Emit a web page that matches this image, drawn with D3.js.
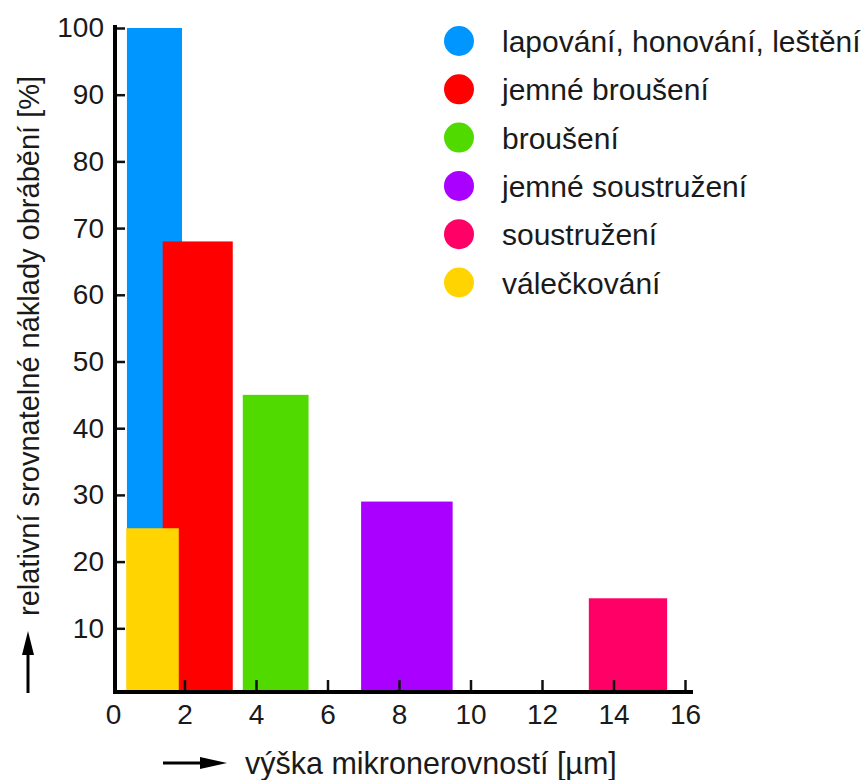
<!DOCTYPE html>
<html>
<head>
<meta charset="utf-8">
<script src="https://cdn.jsdelivr.net/npm/d3@7"></script>
<style>
  html, body { margin: 0; padding: 0; background: #fff; }
  svg { display: block; }
  text { font-family: "Liberation Sans", Arial, sans-serif; fill: #1a1a1a; }
</style>
</head>
<body>
<svg id="chart" width="862" height="780"></svg>
<script>
// ---- data ----
const categories = ["lapování, honování, leštění", "jemné broušení", "broušení", "jemné soustružení", "soustružení", "válečkování"];
const roughnessFrom = [0.39, 1.39, 3.63, 6.94, 13.31, 0.37];
const roughnessTo   = [1.93, 3.35, 5.47, 9.5, 15.5, 1.84];
const relativeCost  = [100, 68, 45, 29, 14.5, 25];
const colors = ["#0096ff", "#ff0000", "#50da00", "#aa00ff", "#ff0066", "#ffd400"];
const xTicks = [0, 2, 4, 6, 8, 10, 12, 14, 16];
const yTicks = [10, 20, 30, 40, 50, 60, 70, 80, 90, 100];
const xTitle = "výška mikronerovností [µm]";
const yTitle = "relativní srovnatelné náklady obrábění [%]";

// ---- drawing ----
const svg = d3.select("#chart");
const x = d3.scaleLinear().domain([0, 16]).range([113, 685]);
const y = d3.scaleLinear().domain([0, 100]).range([695, 28]);
const axisY = y(0) - 3;   // x-axis line position
const axisX = x(0) + 2;   // y-axis line position

const data = categories.map((c, i) => ({
  name: c, x0: roughnessFrom[i], x1: roughnessTo[i], v: relativeCost[i], color: colors[i]
}));

svg.append("g").selectAll("rect").data(data).join("rect")
  .attr("x", d => x(d.x0))
  .attr("width", d => x(d.x1) - x(d.x0))
  .attr("y", d => y(d.v))
  .attr("height", d => axisY - y(d.v))
  .attr("fill", d => d.color);

// y axis
const gy = svg.append("g").attr("transform", `translate(${axisX},0)`)
  .call(d3.axisLeft(y).tickValues(yTicks).tickSizeInner(-10).tickSizeOuter(0).tickPadding(11));
gy.select(".domain").remove();
gy.selectAll(".tick line").attr("stroke", "#111").attr("stroke-width", 2.5);
gy.selectAll(".tick text").attr("font-size", 28).style("fill", "#1a1a1a");

// x axis
const gx = svg.append("g").attr("transform", `translate(0,${axisY})`)
  .call(d3.axisBottom(x).tickValues(xTicks).tickSizeInner(-12).tickSizeOuter(0).tickPadding(12));
gx.select(".domain").remove();
gx.selectAll(".tick line").attr("stroke", "#111").attr("stroke-width", 2.5);
gx.selectAll(".tick").filter(d => d === 0).select("line").remove();
gx.selectAll(".tick text").attr("font-size", 28).style("fill", "#1a1a1a");

// axis lines
svg.append("line").attr("x1", axisX).attr("x2", axisX).attr("y1", 25).attr("y2", axisY + 2)
  .attr("stroke", "#000").attr("stroke-width", 4);
svg.append("line").attr("x1", axisX - 2).attr("x2", 693).attr("y1", axisY).attr("y2", axisY)
  .attr("stroke", "#000").attr("stroke-width", 4);

// y title with arrow
svg.append("text")
  .attr("transform", "translate(39,616) rotate(-90)")
  .attr("font-size", 29)
  .text(yTitle);
svg.append("line").attr("x1", 28).attr("x2", 28).attr("y1", 693).attr("y2", 650)
  .attr("stroke", "#000").attr("stroke-width", 3);
svg.append("path").attr("d", "M28,631 L34,655 L22,655 Z").attr("fill", "#000");

// x title with arrow
svg.append("text").attr("x", 245).attr("y", 774).attr("font-size", 30.5).text(xTitle);
svg.append("line").attr("x1", 163).attr("x2", 205).attr("y1", 763).attr("y2", 763)
  .attr("stroke", "#000").attr("stroke-width", 3);
svg.append("path").attr("d", "M227,763 L200,757 L200,769 Z").attr("fill", "#000");

// legend
const lg = svg.append("g").selectAll("g").data(data).join("g")
  .attr("transform", (d, i) => `translate(459,${41 + i * 48.3})`);
lg.append("circle").attr("r", 15).attr("fill", d => d.color);
lg.append("text").attr("x", 43).attr("y", 11).attr("font-size", 30).text(d => d.name);
</script>
</body>
</html>
